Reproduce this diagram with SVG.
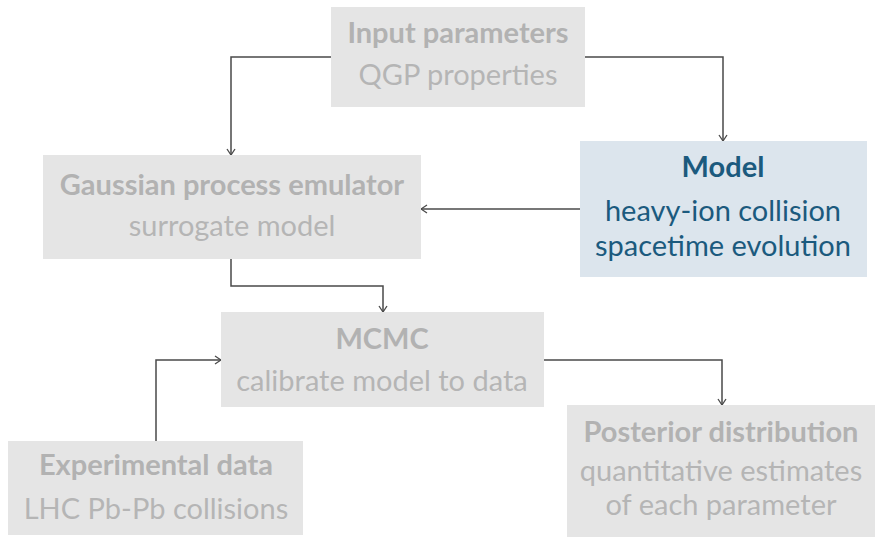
<svg xmlns="http://www.w3.org/2000/svg" width="876" height="538" viewBox="0 0 876 538">
  <defs>
    <marker id="arrow" viewBox="0 0 10 10" refX="9" refY="5" markerWidth="10" markerHeight="10" markerUnits="userSpaceOnUse" orient="auto">
      <path d="M3,1 L9,5 L3,9" fill="none" stroke="#4a4a4a" stroke-width="1.3"/>
    </marker>
    <style>
      .box { fill: #e5e5e5; }
      .box-hl { fill: #dce5ed; }
      text { font-family: Lato, "Open Sans", "Liberation Sans", sans-serif; font-size: 29px; text-anchor: middle; }
      .t { font-weight: bold; fill: #b2b2b2; }
      .s { fill: #b5b5b5; }
      .th { font-weight: bold; fill: #1b5a7e; }
      .sh { fill: #1b5a7e; }
      .edge { fill: none; stroke: #4a4a4a; stroke-width: 1.5; marker-end: url(#arrow); }
    </style>
  </defs>

  <g id="connectors">
    <path class="edge" d="M331,57 H231 V155"/>
    <path class="edge" d="M585,57 H723 V141"/>
    <path class="edge" d="M580,209 H421"/>
    <path class="edge" d="M231,259 V286 H383 V312"/>
    <path class="edge" d="M156,441 V360 H221"/>
    <path class="edge" d="M544,360 H722 V405"/>
  </g>

  <g id="input">
    <rect class="box" x="331" y="7" width="254" height="100"/>
    <text class="t" x="458" y="43">Input parameters</text>
    <text class="s" x="458" y="85">QGP properties</text>
  </g>

  <g id="model">
    <rect class="box-hl" x="580" y="141" width="287" height="136"/>
    <text class="th" x="723" y="177">Model</text>
    <text class="sh" x="723" y="221">heavy-ion collision</text>
    <text class="sh" x="723" y="256">spacetime evolution</text>
  </g>

  <g id="emulator">
    <rect class="box" x="43" y="155" width="378" height="104"/>
    <text class="t" x="232" y="195">Gaussian process emulator</text>
    <text class="s" x="232" y="236">surrogate model</text>
  </g>

  <g id="mcmc">
    <rect class="box" x="221" y="312" width="323" height="95"/>
    <text class="t" x="382" y="349">MCMC</text>
    <text class="s" x="382" y="391">calibrate model to data</text>
  </g>

  <g id="data">
    <rect class="box" x="8" y="441" width="295" height="94"/>
    <text class="t" x="156" y="475">Experimental data</text>
    <text class="s" x="156" y="519">LHC Pb-Pb collisions</text>
  </g>

  <g id="posterior">
    <rect class="box" x="567" y="405" width="308" height="132"/>
    <text class="t" x="721" y="442">Posterior distribution</text>
    <text class="s" x="721" y="481">quantitative estimates</text>
    <text class="s" x="721" y="515">of each parameter</text>
  </g>
</svg>
